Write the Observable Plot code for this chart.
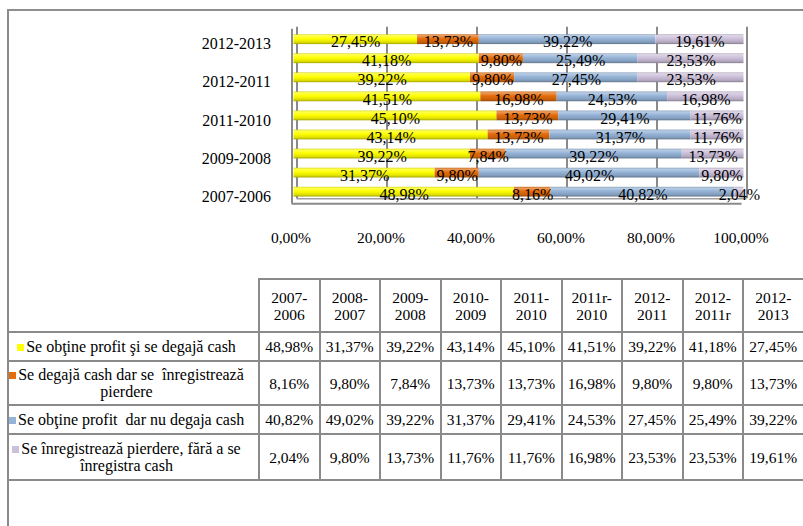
<!DOCTYPE html>
<html><head><meta charset="utf-8">
<script src="https://cdn.jsdelivr.net/npm/d3@7"></script>
<script src="https://cdn.jsdelivr.net/npm/@observablehq/plot@0.6"></script>
<style>
body{margin:0;background:#fff;}
#wrap{position:relative;width:803px;height:526px;overflow:hidden;font-family:"Liberation Serif","Times New Roman",serif;background:#fff;}
#frame{position:absolute;left:7px;top:9px;width:830px;height:560px;border-left:2.5px solid #8a8a8a;border-top:2px solid #8e8e8e;box-sizing:border-box;z-index:5;pointer-events:none;}
#chart{position:absolute;left:0;top:0;}
#tbl{position:absolute;left:7px;top:278px;border-collapse:collapse;table-layout:fixed;width:795.5px;}
#tbl td{border:2.5px solid #8a8a8a;text-align:center;vertical-align:middle;font-size:15.5px;padding:0;color:#000;line-height:17px;white-space:pre;}
#tbl td.blank{border-top:none;border-left:none;}
#tbl td.lab{font-size:16px;padding-right:14px;}
.key{display:inline-block;width:7px;height:7px;margin-right:2px;vertical-align:1px;}
</style></head>
<body>
<div id="wrap"><div id="frame"></div><div id="chart"></div></div>
<script>
// ---- data ----
const cats = ["2007-2006","2008-2007","2009-2008","2010-2009","2011-2010","2011r-2010","2012-2011","2012-2011r","2012-2013"];
const catHeaders = ["2007-\n2006","2008-\n2007","2009-\n2008","2010-\n2009","2011-\n2010","2011r-\n2010","2012-\n2011","2012-\n2011r","2012-\n2013"];
const seriesNames = [
  "Se obţine profit şi se degajă cash",
  "Se degajă cash dar se  înregistrează\npierdere",
  "Se obţine profit  dar nu degaja cash",
  "Se înregistrează pierdere, fără a se\nînregistra cash"
];
const profitCash   = [48.98,31.37,39.22,43.14,45.10,41.51,39.22,41.18,27.45];
const cashLoss     = [8.16,9.80,7.84,13.73,13.73,16.98,9.80,9.80,13.73];
const profitNoCash = [40.82,49.02,39.22,31.37,29.41,24.53,27.45,25.49,39.22];
const lossNoCash   = [2.04,9.80,13.73,11.76,11.76,16.98,23.53,23.53,19.61];
const seriesValues = [profitCash, cashLoss, profitNoCash, lossNoCash];
const colors = ["#FFFF00","#E46C0A","#95B3D7","#CCC0DA"];
const xTicks = [0,20,40,60,80,100];
const yLabelCats = ["2007-2006","2009-2008","2011-2010","2012-2011","2012-2013"];

const fmt = v => v.toFixed(2).replace(".", ",") + "%";
const gradIds = colors.map((c, i) => "grad" + i);
const data = [];
seriesNames.forEach((s, si) => cats.forEach((c, ci) =>
  data.push({cat: c, series: s, value: seriesValues[si][ci], grad: `url(#${gradIds[si]})`})));

const FONT = '"Liberation Serif", "Times New Roman", serif';
const chart = Plot.plot({
  width: 803, height: 279,
  marginLeft: 293.5, marginRight: 59.5, marginTop: 29.7, marginBottom: 77.8,
  style: {fontFamily: FONT, fontSize: "16px", color: "#000", background: "transparent", overflow: "visible"},
  x: {domain: [0, 100]},
  y: {domain: cats.slice().reverse(), paddingInner: 0.49, paddingOuter: 0.245, round: false},
  color: {type: "identity"},
  marks: [
    Plot.ruleX(xTicks, {dx: 3, insetTop: -3, insetBottom: 3, stroke: "#8a8a8a", strokeWidth: 2}),
    Plot.ruleX([0], {dx: -2, insetTop: -1, insetBottom: -2, stroke: "#8a8a8a", strokeWidth: 2}),
    Plot.ruleY([cats[0]], {x1: 0, x2: 100, dy: 6.6, dx: 3, stroke: "#a0a0a0", strokeWidth: 1.5}),
    Plot.ruleY([cats[0]], {x1: 0, x2: 100, dy: 11.6, dx: -2, stroke: "#8a8a8a", strokeWidth: 2}),
    Plot.barX(data, Plot.stackX({x: "value", y: "cat", z: "series", fill: "grad"})),
    Plot.text(data, Plot.stackX({x: "value", y: "cat", z: "series", text: d => fmt(d.value), dy: 2.5, fontSize: 16, fill: "#000"})),
    Plot.axisY({ticks: yLabelCats, tickSize: 0, tickPadding: 23, fontSize: 16, dy: 4.5, label: null}),
    Plot.axisX({ticks: xTicks, tickFormat: fmt, tickSize: 0, tickPadding: 30, fontSize: 15.5, dx: -3, label: null})
  ]
});

// 3D-like shading gradients
const defs = d3.select(chart).insert("defs", ":first-child");
colors.forEach((c, i) => {
  const g = defs.append("linearGradient").attr("id", gradIds[i]).attr("x1", 0).attr("y1", 0).attr("x2", 0).attr("y2", 1);
  const stops = [
    [0, d3.interpolateRgb(c, "#000")(0.18)],
    [0.12, d3.interpolateRgb(c, "#fff")(0.35)],
    [0.45, c],
    [0.8, d3.interpolateRgb(c, "#000")(0.12)],
    [1, d3.interpolateRgb(c, "#000")(0.35)]
  ];
  stops.forEach(([o, col]) => g.append("stop").attr("offset", o).attr("stop-color", col));
});
document.getElementById("chart").appendChild(chart);

// data table
const tbl = document.createElement("table");
tbl.id = "tbl";
const cg = document.createElement("colgroup");
[251, ...cats.map(() => 60.5)].forEach(w => { const col = document.createElement("col"); col.style.width = w + "px"; cg.appendChild(col); });
tbl.appendChild(cg);
const rowHeights = [53, 29, 44, 29, 46];
const hr = tbl.insertRow();
hr.style.height = rowHeights[0] + "px";
const blank = hr.insertCell(); blank.className = "blank";
catHeaders.forEach(h => { const td = hr.insertCell(); td.textContent = h; });
seriesNames.forEach((s, si) => {
  const tr = tbl.insertRow();
  tr.style.height = rowHeights[si + 1] + "px";
  const th = tr.insertCell();
  th.className = "lab";
  const key = document.createElement("span");
  key.className = "key"; key.style.background = colors[si];
  th.appendChild(key);
  th.appendChild(document.createTextNode(s));
  seriesValues[si].forEach(v => { const td = tr.insertCell(); td.textContent = fmt(v); });
});
document.getElementById("wrap").appendChild(tbl);
</script>
</body></html>
